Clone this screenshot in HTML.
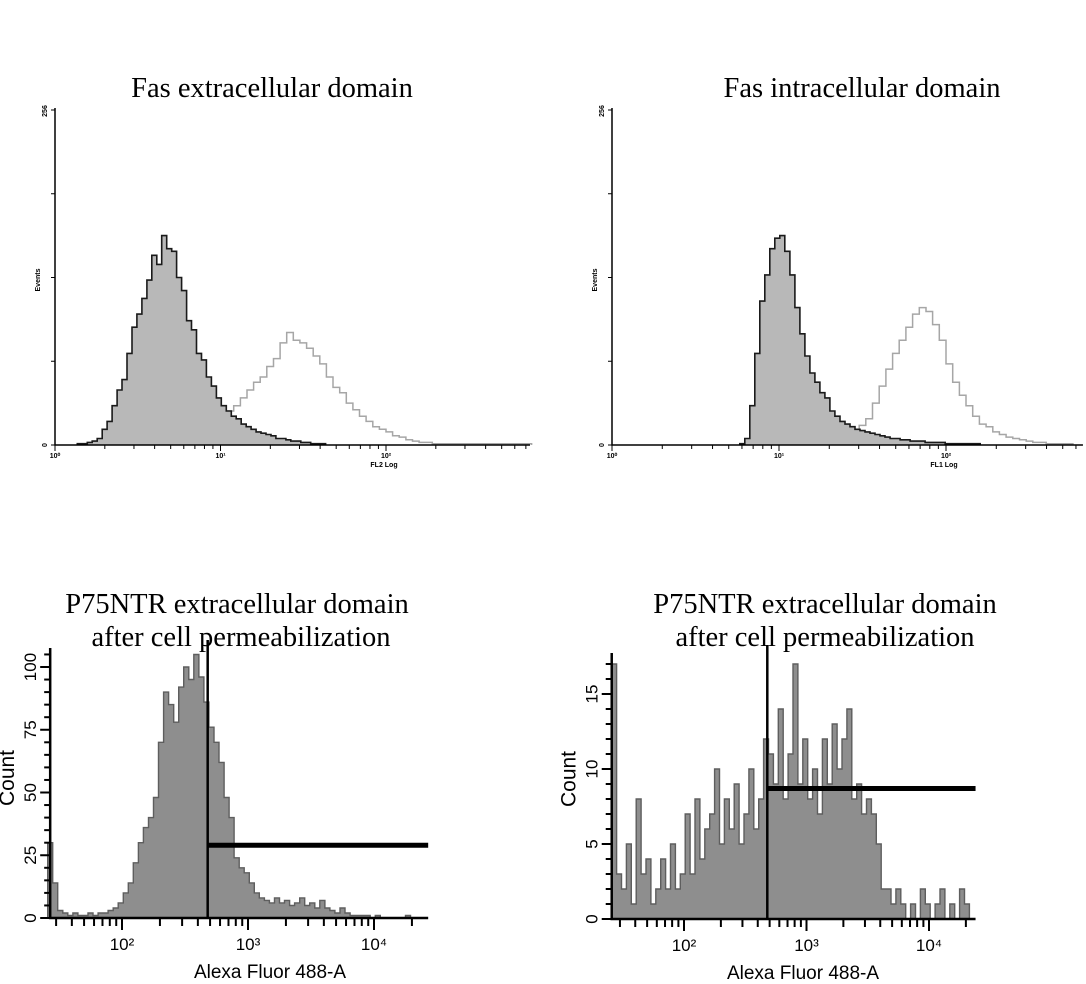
<!DOCTYPE html>
<html><head><meta charset="utf-8"><style>
body{margin:0;background:#fff}
svg{display:block}
.t{font-family:"Liberation Serif",serif;font-size:28.5px;fill:#000}
.s{font-family:"Liberation Sans",sans-serif;fill:#000}
</style></head><body>
<svg id="fig" width="1086" height="984" viewBox="0 0 1086 984">
<text class="t" x="272" y="97" text-anchor="middle">Fas extracellular domain</text>
<text class="t" x="862" y="97" text-anchor="middle">Fas intracellular domain</text>
<text class="t" x="237" y="613" text-anchor="middle">P75NTR extracellular domain</text>
<text class="t" x="241" y="646" text-anchor="middle">after cell permeabilization</text>
<text class="t" x="825" y="613" text-anchor="middle">P75NTR extracellular domain</text>
<text class="t" x="825" y="646" text-anchor="middle">after cell permeabilization</text>
<g id="p1"></g>
<g id="p2"></g>
<g id="p3"></g>
<g id="p4"></g>
</svg>
<script>
// ---- data (log10 bin centers and counts) ----
const p1BlackStart = 0.15, p1BlackStep = 0.03;
const p1Black = [1,1,2,3,5,12,18,30,42,50,70,90,100,112,126,145,138,160,150,148,128,118,95,88,70,65,52,45,36,30,26,22,20,16,14,12,10,9,8,7,5,5,4,3,3,2,2,1,1,1];
const p1GrayStart = 0.90, p1GrayStep = 0.04;
const p1Gray = [10,14,18,22,26,30,36,42,48,52,60,66,78,86,80,78,74,68,62,52,44,40,32,27,22,18,14,12,10,7,6,4,3,2,2,1,1,1,1,1,1,1,1,1,1,1,1,1,1,1];
const p2BlackStart = 0.78, p2BlackStep = 0.03;
const p2Black = [1,5,30,70,110,130,150,158,160,148,130,105,85,68,55,48,40,36,26,22,18,16,14,12,11,10,9,8,7,6,5,5,4,4,3,3,3,2,2,2,2,1,1,1,1,1,1,1];
const p2GrayStart = 1.50, p2GrayStep = 0.04;
const p2Gray = [15,20,32,45,58,70,80,90,100,105,102,92,80,62,48,38,30,22,16,14,10,8,6,5,4,3,2,2,1,1,1,1];
const p3Start = 1.43, p3Step = 0.04;
const p3Counts = [30,14,3,2,1,2,1,1,2,1,2,2,3,4,6,10,14,22,30,36,40,48,70,90,85,78,92,100,95,105,96,86,76,70,62,48,40,24,20,18,14,10,8,7,6,8,6,7,5,6,8,5,6,4,7,4,3,2,4,2,1,1,1,1,0,1,0,0,0,0,0,1,0,0];
const p4Start = 1.43, p4Step = 0.04;
const p4Counts = [17,3,2,5,1,8,3,4,1,2,4,2,5,2,3,7,3,8,4,6,7,10,5,8,6,9,5,7,10,6,8,12,11,9,14,8,11,17,9,12,8,10,7,12,9,13,10,12,14,8,9,7,8,7,5,2,2,1,2,1,0,1,0,2,1,0,1,2,0,1,0,2,1];
const p3Gate = [2.68, 29];
const p4Gate = [2.68, 8.7];

const NS = "http://www.w3.org/2000/svg";
function mk(parent, tag, attrs){ const e=document.createElementNS(NS,tag); for(const k in attrs) e.setAttribute(k,attrs[k]); parent.appendChild(e); return e; }

function histPath(start, step, vals, X, Y){
  let d = "M"+X(start-step/2).toFixed(1)+","+Y(0).toFixed(1);
  for(let i=0;i<vals.length;i++){
    const l=start+(i-0.5)*step, r=start+(i+0.5)*step;
    d += " L"+X(l).toFixed(1)+","+Y(vals[i]).toFixed(1)+" L"+X(r).toFixed(1)+","+Y(vals[i]).toFixed(1);
  }
  d += " L"+X(start+(vals.length-0.5)*step).toFixed(1)+","+Y(0).toFixed(1);
  return d;
}

// ---- top panels ----
function topPanel(gid, x0, dec, xMax, label, gStart,gStep,gray, bStart,bStep,black){
  const g=document.getElementById(gid);
  const X=l=>x0+l*dec, Y=c=>445-c*335/256;
  let e=mk(g,"path",{d:histPath(gStart,gStep,gray,X,Y),fill:"none",stroke:"#a6a6a6","stroke-width":1.5});
  
  
  e=mk(g,"path",{d:histPath(bStart,bStep,black,X,Y),fill:"#b8b8b8",stroke:"#1a1a1a","stroke-width":1.6});
  
  
  e=mk(g,"path",{d:"M"+x0+",108 V445 H"+X(xMax),fill:"none",stroke:"#000","stroke-width":1.5});
  
  
  for(const c of [0,64,128,192,256]){ mk(g,"line",{x1:x0-4,x2:x0,y1:Y(c),y2:Y(c),stroke:"#000","stroke-width":1}); }
  for(let d=0; d<3; d++) for(let m=1;m<10;m++){ const l=d+Math.log10(m); if(l>xMax) break; mk(g,"line",{x1:X(l),x2:X(l),y1:445,y2:m==1?451:449,stroke:"#000","stroke-width":1}); }
  const sup=["\u2070","\u00B9","\u00B2"];
  for(let d=0; d<3; d++){ e=mk(g,"text",{x:X(d),y:458,"text-anchor":"middle","class":"s","font-size":7,"font-weight":"bold"}); e.textContent="10"+sup[d];
      }
  e=mk(g,"text",{x:X(2)-2,y:467,"text-anchor":"middle","class":"s","font-size":7,"font-weight":"bold"}); e.textContent=label;
   
  e=mk(g,"text",{x:0,y:0,transform:"translate("+(x0-8)+",111) rotate(-90)","text-anchor":"middle","class":"s","font-size":7,"font-weight":"bold"}); e.textContent="256";
   
  e=mk(g,"text",{x:0,y:0,transform:"translate("+(x0-8)+",445) rotate(-90)","text-anchor":"middle","class":"s","font-size":7,"font-weight":"bold"}); e.textContent="0";
   
  e=mk(g,"text",{x:0,y:0,transform:"translate("+(x0-15)+",280) rotate(-90)","text-anchor":"middle","class":"s","font-size":7,"font-weight":"bold"}); e.textContent="Events";
   
}
topPanel("p1",55,165.5,2.87,"FL2 Log",p1GrayStart,p1GrayStep,p1Gray,p1BlackStart,p1BlackStep,p1Black);
topPanel("p2",612,167,2.82,"FL1 Log",p2GrayStart,p2GrayStep,p2Gray,p2BlackStart,p2BlackStep,p2Black);

// ---- bottom panels ----
function botPanel(gid, x0, dec, lMin, lMax, y0, pxPer, yTop, start, step, vals, gate, minorStep, labels, titleX){
  const g=document.getElementById(gid);
  const X=l=>x0+(l-2)*dec, Y=c=>y0-c*pxPer;
  let e=mk(g,"path",{d:histPath(start,step,vals,X,Y),fill:"#8e8e8e",stroke:"#5e5e5e","stroke-width":1.4});
  
  
  e=mk(g,"path",{d:"M"+X(lMin)+","+yTop+" V"+y0+" H"+X(lMax),fill:"none",stroke:"#000","stroke-width":2.5});
  
  
  for(let c=0; Y(c)>=yTop; c+=minorStep){ mk(g,"line",{x1:X(lMin)-(labels.includes(c)?10:6),x2:X(lMin),y1:Y(c),y2:Y(c),stroke:"#000","stroke-width":2}); }
  for(const c of labels){ e=mk(g,"text",{x:0,y:0,transform:"translate("+(X(lMin)-14)+","+Y(c)+") rotate(-90)","text-anchor":"middle","class":"s","font-size":17}); e.textContent=String(c);
      }
  for(let d=1; d<5; d++) for(let m=1;m<10;m++){ const l=d+Math.log10(m); if(l<lMin||l>lMax) continue; mk(g,"line",{x1:X(l),x2:X(l),y1:y0,y2:y0+(m==1?12:8),stroke:"#000","stroke-width":2}); }
  const sup={2:"\u00B2",3:"\u00B3",4:"\u2074"};
  for(const d of [2,3,4]){ e=mk(g,"text",{x:X(d),y:y0+32,"text-anchor":"middle","class":"s","font-size":17}); e.textContent="10"+sup[d];
      }
  e=mk(g,"text",{x:titleX,y:y0+60,"text-anchor":"middle","class":"s","font-size":19}); e.textContent="Alexa Fluor 488-A";
   
  e=mk(g,"text",{x:0,y:0,transform:"translate("+(X(lMin)-36)+","+(y0-140)+") rotate(-90)","text-anchor":"middle","class":"s","font-size":21}); e.textContent="Count";
   
  e=mk(g,"line",{x1:X(gate[0]),x2:X(gate[0]),y1:yTop-8,y2:y0,stroke:"#000","stroke-width":2.5});
   
  e=mk(g,"line",{x1:X(gate[0]),x2:X(lMax),y1:Y(gate[1]),y2:Y(gate[1]),stroke:"#000","stroke-width":5});
   
}
botPanel("p3",122,126,1.43,4.43,918,2.51,648,p3Start,p3Step,p3Counts,p3Gate,5,[0,25,50,75,100],270);
botPanel("p4",684,122.5,1.41,4.38,919,15,653,p4Start,p4Step,p4Counts,p4Gate,1,[0,5,10,15],803);
</script>
</body></html>
